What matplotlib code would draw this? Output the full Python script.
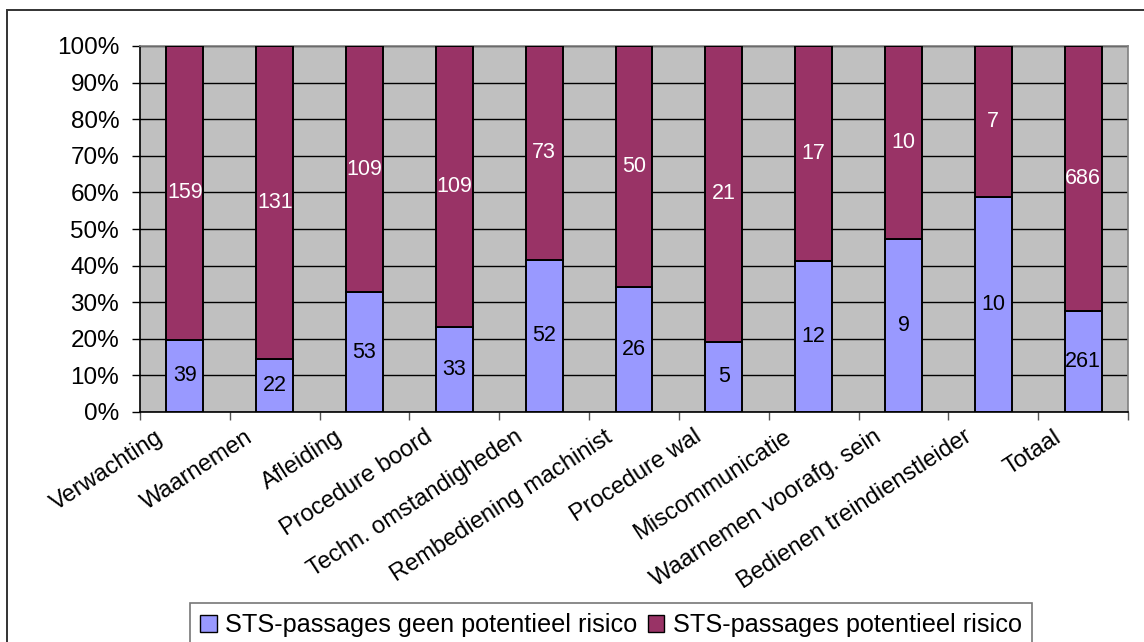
import matplotlib.pyplot as plt
import matplotlib.transforms as mtransforms
from matplotlib.patches import Rectangle
import numpy as np

plt.rcParams['font.family'] = ['Liberation Sans', 'DejaVu Sans']

categories = [
    "Verwachting", "Waarnemen", "Afleiding", "Procedure boord",
    "Techn. omstandigheden", "Rembediening machinist", "Procedure wal",
    "Miscommunicatie", "Waarnemen voorafg. sein",
    "Bedienen treindienstleider", "Totaal",
]
geen_risico = [39, 22, 53, 33, 52, 26, 5, 12, 9, 10, 261]
wel_risico = [159, 131, 109, 109, 73, 50, 21, 17, 10, 7, 686]
series_names = ["STS-passages geen potentieel risico",
                "STS-passages potentieel risico"]

BLUE = "#9999FF"
PLUM = "#993366"

geen = np.array(geen_risico, dtype=float)
wel = np.array(wel_risico, dtype=float)
totals = geen + wel
p_geen = geen / totals * 100
p_wel = wel / totals * 100

fig = plt.figure(figsize=(11.44, 6.42), dpi=100)
ax = fig.add_axes([140 / 1144, 1 - 412 / 642, 988 / 1144, 366 / 642])
ax.set_facecolor("#C0C0C0")

x = np.arange(len(categories))
w = 0.41
ax.bar(x, p_geen, w, color=BLUE, edgecolor="black", linewidth=1.4, zorder=3)
ax.bar(x, p_wel, w, bottom=p_geen, color=PLUM, edgecolor="black",
       linewidth=1.4, zorder=3)

# value labels centred in each segment
for i in range(len(categories)):
    ax.text(x[i], p_geen[i] / 2, f"{geen_risico[i]}", ha="center",
            va="center", fontsize=15.5, color="black", zorder=4)
    ax.text(x[i], p_geen[i] + p_wel[i] / 2, f"{wel_risico[i]}", ha="center",
            va="center", fontsize=15.5, color="white", zorder=4)

ax.set_xlim(-0.5, len(categories) - 0.5)
ax.set_ylim(0, 100)
ax.set_yticks(np.arange(0, 101, 10))
ax.set_yticklabels([f"{v}%" for v in range(0, 101, 10)], fontsize=17.5)
ax.yaxis.grid(True, color="black", linewidth=1.0, zorder=1)
ax.set_axisbelow(True)
ax.tick_params(axis="y", direction="out", length=6, width=1, pad=9)

# category labels at the centres, tick marks at the boundaries
ax.set_xticks(x)
ax.set_xticks(np.arange(-0.5, len(categories)), minor=True)
ax.tick_params(axis="x", which="major", length=0, pad=10)
ax.tick_params(axis="x", which="minor", direction="out", length=6, width=1,
               color="#555555")
ax.set_xticklabels(categories, fontsize=17, rotation=33, ha="right",
                   rotation_mode="anchor")
shift = mtransforms.ScaledTranslation(-30 / 100, 0, fig.dpi_scale_trans)
for lab in ax.get_xticklabels():
    lab.set_transform(lab.get_transform() + shift)

for side in ("left", "bottom"):
    ax.spines[side].set_color("black")
    ax.spines[side].set_linewidth(1.2)
for side in ("top", "right"):
    ax.spines[side].set_color("#808080")
    ax.spines[side].set_linewidth(1.2)

# outer chart frame
fig.add_artist(Rectangle((7 / 1144, -0.1), 1.2, 1 - 10 / 642 + 0.1,
                         transform=fig.transFigure, fill=False,
                         edgecolor="#333333", linewidth=1.4))

handles = [Rectangle((0, 0), 1, 1, facecolor=BLUE, edgecolor="black", lw=1),
           Rectangle((0, 0), 1, 1, facecolor=PLUM, edgecolor="black", lw=1)]
leg = fig.legend(handles, series_names, loc="upper left", ncol=2,
                 bbox_to_anchor=(190 / 1144, 1 - 603 / 642), fontsize=18.2,
                 frameon=True, fancybox=False, handlelength=0.65,
                 handleheight=0.65, handletextpad=0.35, columnspacing=0.4,
                 borderpad=0.4, borderaxespad=0)
leg.get_frame().set_edgecolor("#555555")
leg.get_frame().set_linewidth(1.2)

fig.savefig("out.png", dpi=100)
